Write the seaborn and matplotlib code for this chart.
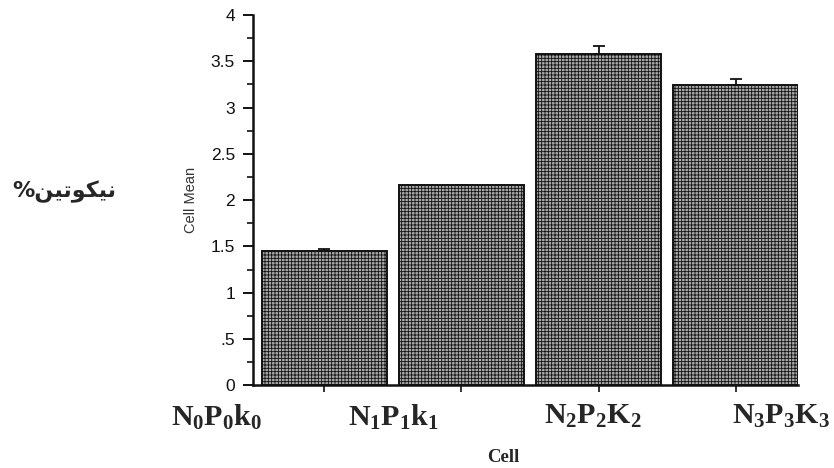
import numpy as np
import pandas as pd
import matplotlib
matplotlib.use('Agg')
import matplotlib.pyplot as plt
import seaborn as sns

cells = ['N0P0k0', 'N1P1k1', 'N2P2K2', 'N3P3K3']
cell_labels = [r'$\mathbf{N_0P_0k_0}$', r'$\mathbf{N_1P_1k_1}$',
               r'$\mathbf{N_2P_2K_2}$', r'$\mathbf{N_3P_3K_3}$']
cell_means = [1.455, 2.165, 3.58, 3.245]
cell_err = [0.015, 0.0, 0.08, 0.065]
ytick_vals = [0, 0.5, 1, 1.5, 2, 2.5, 3, 3.5, 4]
ytick_labels = ['0', '.5', '1', '1.5', '2', '2.5', '3', '3.5', '4']
# pixel nudges of the pasted-in labels relative to each bar centre
label_shift = [-108, -68, -6, 45]

# "nicotine %" : pre-shaped arabic (presentation forms, visual order)
y_title = '%\uFEE6\uFEF4\uFE97\uFEEE\uFEDC\uFEF4\uFEE7'

sns.set_style('ticks')
plt.rcParams['font.family'] = ['Liberation Sans', 'DejaVu Sans']
plt.rcParams['mathtext.fontset'] = 'custom'
plt.rcParams['mathtext.rm'] = 'Liberation Serif'
plt.rcParams['mathtext.bf'] = 'Liberation Serif:bold'
plt.rcParams['hatch.linewidth'] = 0.6

df = pd.DataFrame({'Cell': cells, 'Mean': cell_means})

fig = plt.figure(figsize=(8.34, 4.68), dpi=100)
ax = fig.add_axes([0.3034, 0.1765, 0.6535, 0.7915])

sns.barplot(data=df, x='Cell', y='Mean', ax=ax, color='#a8a8a8',
            width=0.91, errorbar=None, edgecolor='#111111', linewidth=1.4,
            hatch='+++++', saturation=1)
ax.errorbar(range(len(cells)), cell_means,
            yerr=[np.zeros(len(cells)), cell_err], fmt='none',
            ecolor='#111111', elinewidth=1.3, capsize=4, capthick=1.3)

ax.set_xlim(-0.52, 3.455)
ax.set_ylim(0, 4)
ax.set_yticks(ytick_vals, labels=ytick_labels)
ax.set_yticks(np.arange(0.25, 4, 0.5), minor=True)
ax.tick_params(axis='y', which='major', length=7, width=1.4, labelsize=12.5,
               pad=6, colors='#111111')
ax.tick_params(axis='y', which='minor', length=4, width=1.2, colors='#111111')
ax.set_xticks(range(len(cells)), labels=[''] * len(cells))
ax.tick_params(axis='x', length=5, width=1.2, colors='#111111')
for sp in ['left', 'bottom']:
    ax.spines[sp].set_linewidth(1.8)
    ax.spines[sp].set_color('#111111')
sns.despine(ax=ax)

ax.set_xlabel('')
ax.set_ylabel('Cell Mean', fontsize=10.5, labelpad=9, color='#333333')

for i, lab in enumerate(cell_labels):
    ax.annotate(lab, xy=(i, 0), xycoords='data',
                xytext=(label_shift[i], -17), textcoords='offset pixels',
                ha='center', va='top', fontsize=21.5)

fig.text(503 / 834, 1 - 458 / 468, 'Cell', ha='center', va='center',
         fontsize=13.5, fontweight='bold', family='Liberation Serif')
fig.text(64 / 834, 1 - 192 / 468, y_title, ha='center', va='center',
         fontsize=16, fontweight='bold', family=['DejaVu Sans'])

fig.savefig('out.png', dpi=100)
